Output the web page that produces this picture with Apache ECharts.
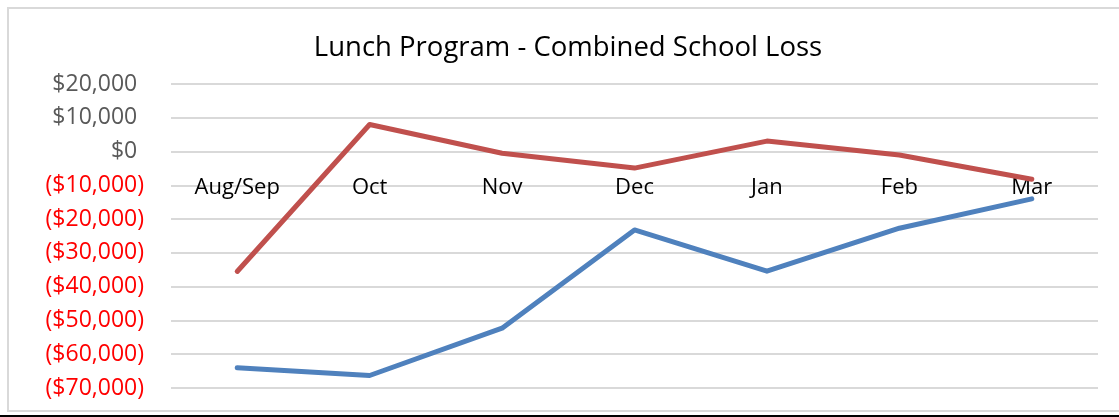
<!DOCTYPE html>
<html>
<head>
<meta charset="utf-8">
<script src="https://cdn.jsdelivr.net/npm/echarts@6/dist/echarts.min.js"></script>
<style>
html,body{margin:0;padding:0;background:#fff;}
#chart{width:1119px;height:417px;}
</style>
</head>
<body>
<div id="chart"></div>
<script>
const categories = ['Aug/Sep', 'Oct', 'Nov', 'Dec', 'Jan', 'Feb', 'Mar'];
const redSeries = [-35500, 8000, -500, -4900, 3100, -1000, -8200];
const blueSeries = [-64000, -66300, -52300, -23200, -35400, -22700, -14000];
const yMin = -70000;
const yMax = 20000;
const yInterval = 10000;
const titleText = 'Lunch Program - Combined School Loss';

const FONT = '"Open Sans", "Noto Sans", sans-serif';

function fmtMoney(v) {
  const s = Math.abs(v).toLocaleString('en-US');
  if (v < 0) return '{n|($' + s + ')}';
  return '{p|$' + s + '}{h|)}';
}

const chart = echarts.init(document.getElementById('chart'), null, {renderer: 'canvas'});
chart.setOption({
  backgroundColor: '#ffffff',
  animation: false,
  title: {
    text: titleText,
    left: 563,
    top: 29,
    textAlign: 'center',
    textStyle: {fontFamily: FONT, fontSize: 27.5, fontWeight: 'normal', color: '#000000'}
  },
  grid: {left: 171, right: 21, top: 84, bottom: 29, containLabel: false, outerBoundsMode: 'none'},
  xAxis: {
    type: 'category',
    data: categories,
    boundaryGap: true,
    position: 'bottom',
    axisLine: {show: false, onZero: false},
    axisTick: {show: false},
    axisLabel: {
      inside: true,
      margin: 189,
      fontFamily: FONT,
      fontSize: 22,
      color: '#000000'
    },
    splitLine: {show: false}
  },
  yAxis: {
    type: 'value',
    min: yMin,
    max: yMax,
    interval: yInterval,
    axisLine: {show: false},
    axisTick: {show: false},
    axisLabel: {
      margin: 27,
      formatter: fmtMoney,
      rich: {
        p: {fontFamily: FONT, fontSize: 23, color: '#595959'},
        h: {fontFamily: FONT, fontSize: 23, color: 'rgba(0,0,0,0)'},
        n: {fontFamily: FONT, fontSize: 23, color: '#ff0000'}
      }
    },
    splitLine: {show: true, lineStyle: {color: '#d9d9d9', width: 2}}
  },
  series: [
    {
      type: 'line',
      data: redSeries,
      symbol: 'none',
      lineStyle: {color: '#c0504d', width: 5, cap: 'round', join: 'round'},
      itemStyle: {color: '#c0504d'},
      z: 3
    },
    {
      type: 'line',
      data: blueSeries,
      symbol: 'none',
      lineStyle: {color: '#4f81bd', width: 5, cap: 'round', join: 'round'},
      itemStyle: {color: '#4f81bd'},
      z: 3
    }
  ],
  graphic: [
    {
      type: 'rect',
      shape: {x: 8, y: 8, width: 1130, height: 403},
      style: {fill: 'none', stroke: '#d9d9d9', lineWidth: 2},
      silent: true,
      z: -1
    },
    {
      type: 'rect',
      shape: {x: 0, y: 415, width: 1119, height: 2},
      style: {fill: '#000000'},
      silent: true
    }
  ]
});
</script>
</body>
</html>
